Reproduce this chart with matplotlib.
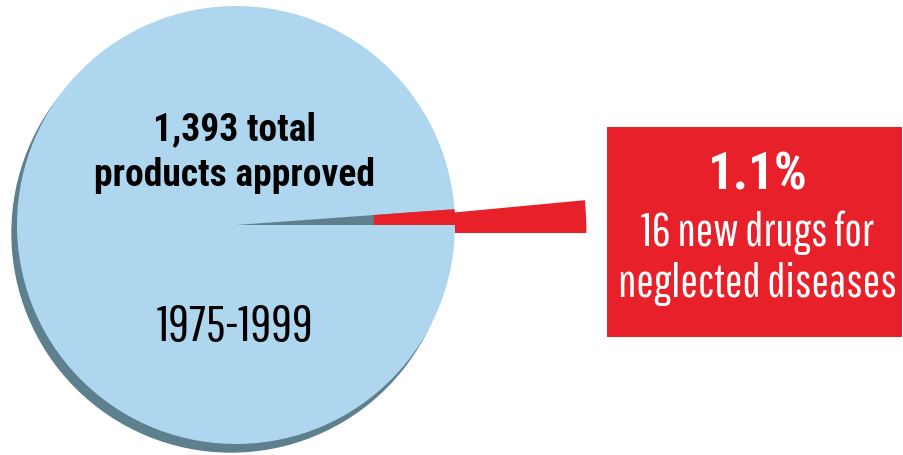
import numpy as np
import matplotlib
matplotlib.use("Agg")
import matplotlib.pyplot as plt
from matplotlib.patches import Wedge, Circle, Rectangle

# data: products approved 1975-1999
labels = ['neglected diseases', 'other products']
counts = [16, 1377]
total = sum(counts)
share = counts[0] / total * 100
period = '1975-1999'

blue = '#aed7ef'
shade = '#5e7f8d'
red = '#e8202a'
thin = ['Pathway Gothic One', 'DejaVu Sans']
bold = ['Roboto Condensed', 'DejaVu Sans']

fig = plt.figure(figsize=(9.04, 4.56), dpi=100)
ax = fig.add_axes([0, 0, 1, 1])

cx, cy, r = 236, 230, 219

# drop shadow under the pie
ax.add_patch(Circle((cx - 5, cy - 8), r, color=shade, zorder=0))

# pie: the small slice keeps the shadow colour, the red one is pulled out
ax.pie(counts, colors=[shade, blue], startangle=0, counterclock=True,
       center=(cx, cy), radius=r, frame=True,
       wedgeprops=dict(linewidth=0))
ax.set_xlim(0, 904)
ax.set_ylim(0, 456)
ax.set_aspect('equal')
ax.axis('off')

ang = counts[0] / total * 360
ax.add_patch(Wedge((cx, cy), r, 0, ang, width=r * 0.37, color=red, lw=0, zorder=3))
ax.add_patch(Wedge((cx, cy - 8), r * 1.6, 0, ang * 1.3, width=r * 0.6, color=red, lw=0, zorder=3))

# callout box
ax.add_patch(Rectangle((607, 118), 295, 210, color=red, lw=0, zorder=3))
ax.text(757, 281, f'{share:.1f}%', color='white', fontsize=37, fontweight='bold',
        family=bold, ha='center', va='center', zorder=4)
ax.text(757, 223, f'{counts[0]} new drugs for', color='white', fontsize=33.5,
        family=thin, ha='center', va='center', zorder=4)
ax.text(757, 173, labels[0], color='white', fontsize=33.5,
        family=thin, ha='center', va='center', zorder=4)

ax.text(235, 326, f'{total:,} total', color='black', fontsize=27, fontweight='bold',
        family=bold, ha='center', va='center', zorder=4)
ax.text(235, 280, 'products approved', color='black', fontsize=27, fontweight='bold',
        family=bold, ha='center', va='center', zorder=4)
ax.text(235, 129, period, color='black', fontsize=37,
        family=thin, ha='center', va='center', zorder=4)

fig.savefig('out.png', dpi=100)
